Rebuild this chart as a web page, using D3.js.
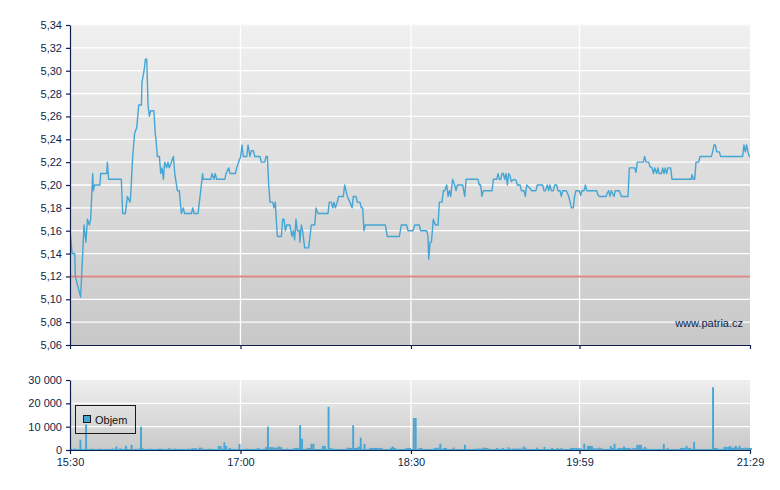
<!DOCTYPE html>
<html><head><meta charset="utf-8">
<script src="https://cdn.jsdelivr.net/npm/d3@7/dist/d3.min.js"></script>
<style>
html,body{margin:0;padding:0;background:#fff;}
svg{display:block;font-family:"Liberation Sans",Arial,sans-serif;}
</style></head>
<body><svg id="c" width="780" height="490"></svg>
<script>
// ---- data ----
const timeTicks = ["15:30","17:00","18:30","19:59","21:29"];
const priceTicks = [5.06,5.08,5.10,5.12,5.14,5.16,5.18,5.20,5.22,5.24,5.26,5.28,5.30,5.32,5.34];
const volumeTicks = [0,10000,20000,30000];
const refPrice = 5.12;
const watermark = "www.patria.cz";
const legendLabel = "Objem";

// minutes after 15:30
const priceMinutes = [
0,1.1,2.5,2.8,5.6,6.7,7.4,8.4,9.2,10.2,10.9,12.0,12.3,13.0,15.8,16.2,19.4,19.7,20.4,27.1,
27.8,29.2,30.3,31.7,32.0,33.1,34.1,35.2,35.5,36.3,37.7,38.0,39.1,39.8,40.5,41.2,41.9,42.6,44.3,45.0,
45.4,46.1,47.2,47.9,48.6,49.3,50.0,51.0,51.7,52.4,53.5,54.6,55.3,56.7,57.7,58.8,59.8,60.5,64.1,64.8,
65.5,67.6,69.0,70.0,70.4,74.3,75.0,76.0,76.7,77.4,81.7,82.4,83.8,84.5,87.3,88.0,89.0,90.1,90.8,
91.5,93.3,94.0,95.0,95.7,96.8,97.5,100.3,101.0,102.8,103.5,104.2,104.9,105.6,107.0,107.7,108.4,108.8,109.5,111.6,
112.3,113.0,113.7,114.4,116.1,117.2,117.9,118.6,119.3,120.0,121.1,121.4,122.1,122.8,123.9,126.0,127.4,129.2,129.9,130.9,
136.2,136.9,138.0,138.7,139.4,140.1,141.1,141.8,144.3,145.0,145.7,146.4,147.8,148.9,149.6,151.0,151.7,153.1,153.8,154.5,
155.2,155.9,166.5,167.5,173.9,174.9,177.7,178.4,181.1,
182.0,184.4,185.1,188.3,189.0,189.4,190.1,190.8,191.8,192.9,194.3,195.0,196.4,197.1,197.8,198.9,199.6,200.3,201.0,202.0,
203.1,203.8,204.5,207.3,208.4,209.1,215.4,216.1,216.8,217.5,218.2,222.8,223.5,225.3,226.0,226.7,227.4,228.1,228.8,229.5,
230.2,230.9,231.6,232.3,233.0,234.4,235.5,236.2,237.6,238.3,239.7,240.4,241.1,242.2,242.9,243.6,246.0,246.7,249.5,250.2,
250.9,252.0,252.7,253.4,254.1,255.2,255.9,256.9,257.6,258.7,259.4,260.1,261.9,262.6,263.3,264.0,264.7,265.7,266.4,267.1,
268.9,
269.6,270.3,271.4,272.1,272.8,278.0,278.8,279.5,283.0,283.7,284.4,285.1,285.8,287.2,287.9,290.0,291.1,294.6,295.3,298.1,
298.8,299.5,302.7,303.4,304.1,305.5,306.2,307.3,308.0,308.7,309.7,310.4,311.1,312.2,312.9,313.6,314.3,315.0,315.7,317.1,
317.8,328.0,328.4,329.1,329.8,330.5,331.9,332.6,338.6,339.3,340.0,340.7,341.4,342.8,343.5,355.1,355.8,356.5,357.2,357.9,
358.6,359
];
const priceValues = [
5.16,5.14,5.14,5.12,5.102,5.14,5.165,5.15,5.17,5.165,5.17,5.21,5.195,5.20,5.20,5.21,5.21,5.22,5.205,5.205,
5.175,5.175,5.19,5.185,5.19,5.225,5.245,5.25,5.255,5.27,5.27,5.29,5.30,5.31,5.31,5.27,5.26,5.265,5.265,5.245,
5.24,5.225,5.225,5.21,5.215,5.205,5.22,5.215,5.22,5.215,5.22,5.225,5.21,5.195,5.195,5.175,5.18,5.175,5.175,5.18,
5.175,5.175,5.195,5.21,5.205,5.205,5.21,5.205,5.21,5.205,5.205,5.21,5.215,5.21,5.21,5.215,5.22,5.225,5.235,
5.225,5.225,5.235,5.225,5.23,5.23,5.225,5.225,5.22,5.22,5.225,5.225,5.20,5.185,5.185,5.18,5.185,5.172,5.155,5.155,
5.17,5.17,5.16,5.165,5.165,5.155,5.16,5.152,5.17,5.16,5.16,5.15,5.165,5.16,5.145,5.145,5.165,5.165,5.18,5.175,
5.175,5.185,5.185,5.18,5.185,5.18,5.185,5.19,5.19,5.20,5.195,5.19,5.185,5.18,5.19,5.19,5.185,5.185,5.18,5.18,
5.16,5.165,5.165,5.155,5.155,5.165,5.165,5.16,5.16,
5.165,5.165,5.16,5.16,5.155,5.135,5.15,5.15,5.17,5.165,5.165,5.185,5.185,5.195,5.195,5.20,5.19,5.195,5.19,5.205,
5.20,5.195,5.20,5.20,5.19,5.205,5.205,5.20,5.20,5.19,5.195,5.195,5.205,5.205,5.21,5.205,5.205,5.21,5.21,5.205,
5.21,5.20,5.21,5.208,5.203,5.205,5.204,5.20,5.20,5.195,5.195,5.19,5.20,5.198,5.197,5.195,5.195,5.20,5.20,5.195,
5.195,5.20,5.195,5.20,5.195,5.195,5.20,5.20,5.195,5.195,5.19,5.195,5.195,5.193,5.19,5.185,5.18,5.18,5.19,5.195,
5.195,
5.191,5.195,5.195,5.20,5.195,5.195,5.191,5.19,5.19,5.193,5.195,5.19,5.195,5.19,5.195,5.195,5.19,5.19,5.215,5.215,
5.211,5.22,5.22,5.225,5.22,5.22,5.216,5.215,5.21,5.215,5.21,5.215,5.21,5.21,5.215,5.21,5.215,5.21,5.215,5.215,
5.205,5.205,5.209,5.205,5.205,5.22,5.22,5.225,5.225,5.229,5.235,5.235,5.229,5.229,5.225,5.225,5.235,5.229,5.235,5.229,
5.225,5.225
];

// volume per minute, index 0 = 15:30
const volumes = [
450,450,600,450,450,4400,450,450,11000,450,450,600,450,450,450,600,450,450,450,450,
450,450,600,450,1500,450,735,450,450,1800,450,450,2200,450,450,450,600,10000,700,450,
450,450,600,450,450,450,450,600,450,450,450,450,880,450,450,600,450,450,450,450,
450,450,600,450,735,735,735,450,1000,1000,450,450,450,600,450,450,450,450,1700,1700,
600,3200,1700,450,880,450,450,450,450,2600,450,450,450,600,450,450,450,450,600,880,
450,450,450,1200,10000,1200,1200,1200,880,1200,1500,1200,450,450,600,450,450,450,880,900,
900,10600,4850,450,450,880,880,2650,2650,440,440,440,440,1750,1750,440,18500,735,735,440,
440,440,440,440,440,440,1030,880,880,10600,880,880,1470,5300,440,2650,440,440,880,880,
880,880,880,880,880,440,440,440,440,1030,1470,880,440,440,440,440,440,735,880,880,
440,13700,13700,440,880,880,440,440,440,440,440,440,880,880,1030,2650,440,880,880,440,
440,440,1030,440,440,440,440,440,2200,440,440,440,440,440,590,590,590,590,1030,880,
880,440,440,440,440,880,440,440,880,440,440,1170,590,590,590,590,590,590,590,1470,
1030,440,440,440,440,440,1030,440,440,440,1300,440,440,440,880,440,440,880,440,880,
440,440,440,440,880,880,880,880,880,735,440,2650,440,1750,1750,1750,735,735,735,1030,
880,440,440,440,440,1760,880,2650,440,880,880,880,1470,880,880,880,440,880,880,2200,
2200,2200,590,1300,590,440,440,440,440,440,440,440,440,2650,440,880,440,440,440,440,
440,440,880,880,880,1750,880,880,440,3500,440,440,440,440,440,440,440,440,440,26900,
880,880,440,440,440,1300,1300,1300,1760,1030,1030,1760,1030,1760,880,880,1030,880,880,880
];

// ---- drawing ----
const svg = d3.select("#c");
const navy = "#0d1f4c";
const blue = "#45a5d3";
const L = 70, R = 750;
const P = {top:25, bottom:345};
const V = {top:380, bottom:450};

const base = new Date(2020,0,1,15,30).getTime();
const tm = m => new Date(base + m*60000);
const parseT = s => { const [h,mm] = s.split(":").map(Number); return new Date(2020,0,1,h,mm); };

const x = d3.scaleTime().domain([parseT(timeTicks[0]), parseT(timeTicks[timeTicks.length-1])]).range([L,R]);
const y = d3.scaleLinear().domain([priceTicks[0], priceTicks[priceTicks.length-1]]).range([P.bottom,P.top]);
const yv = d3.scaleLinear().domain([0, volumeTicks[volumeTicks.length-1]]).range([V.bottom,V.top]);

const loc = d3.formatLocale({decimal:",", thousands:" ", grouping:[3], currency:["",""]});
const fPrice = loc.format(".2f");
const fVol = loc.format(",");
const xTickDates = timeTicks.map(parseT);

const defs = svg.append("defs");
function grad(id, c1, c2){
  const g = defs.append("linearGradient").attr("id",id).attr("x1",0).attr("y1",0).attr("x2",0).attr("y2",1);
  g.append("stop").attr("offset","0%").attr("stop-color",c1);
  g.append("stop").attr("offset","100%").attr("stop-color",c2);
}
grad("gp","#f0f0f0","#c8c8c8");
grad("gv","#efefef","#c9c9c9");
defs.append("clipPath").attr("id","clipP").append("rect").attr("x",L).attr("y",P.top).attr("width",R-L).attr("height",P.bottom-P.top);

// backgrounds
svg.append("rect").attr("x",L).attr("y",P.top).attr("width",R-L).attr("height",P.bottom-P.top).attr("fill","url(#gp)");
svg.append("rect").attr("x",L).attr("y",V.top).attr("width",R-L).attr("height",V.bottom-V.top).attr("fill","url(#gv)");

// gridlines
const grid = svg.append("g").attr("stroke","#fff").attr("stroke-width",1.3);
priceTicks.slice(1,-1).forEach(t => grid.append("line").attr("x1",L).attr("x2",R).attr("y1",y(t)).attr("y2",y(t)));
priceTicks.slice(-1).forEach(t => grid.append("line").attr("x1",L).attr("x2",R).attr("y1",y(t)+0.5).attr("y2",y(t)+0.5).attr("stroke","#f4f4f4"));
volumeTicks.slice(1,-1).forEach(t => grid.append("line").attr("x1",L).attr("x2",R).attr("y1",yv(t)).attr("y2",yv(t)));
xTickDates.slice(1,-1).forEach(d => {
  grid.append("line").attr("x1",x(d)).attr("x2",x(d)).attr("y1",P.top).attr("y2",P.bottom);
  grid.append("line").attr("x1",x(d)).attr("x2",x(d)).attr("y1",V.top).attr("y2",V.bottom);
});

// reference line
svg.append("line").attr("x1",L).attr("x2",R).attr("y1",y(refPrice)).attr("y2",y(refPrice))
  .attr("stroke","#e08686").attr("stroke-width",2);

// price line
const pts = priceMinutes.map((m,i)=>[tm(m), priceValues[i]]);
svg.append("path").datum(pts).attr("clip-path","url(#clipP)")
  .attr("fill","none").attr("stroke",blue).attr("stroke-width",1.4).attr("stroke-linejoin","round")
  .attr("d", d3.line().x(d=>x(d[0])).y(d=>y(d[1])));

// volume bars
svg.append("g").selectAll("rect").data(volumes).join("rect")
  .attr("x",(v,i)=>x(tm(i)))
  .attr("width",(v,i)=>Math.max(0.5, x(tm(i+1))-x(tm(i))))
  .attr("y",v=>yv(v))
  .attr("height",v=>V.bottom-yv(v))
  .attr("fill",blue);

// watermark
svg.append("text").attr("x",743).attr("y",327).attr("text-anchor","end")
  .attr("font-size",11).attr("fill",navy).text(watermark);

// axes
function styleAxis(g){
  g.selectAll("path,line").attr("stroke",navy).attr("stroke-width",1.2);
  g.selectAll("text").attr("fill",navy).attr("font-size",11).attr("font-family","Liberation Sans, Arial, sans-serif");
}
svg.append("g").attr("transform",`translate(${L},0)`)
  .call(d3.axisLeft(y).tickValues(priceTicks).tickFormat(fPrice).tickSize(4).tickSizeOuter(0).tickPadding(4))
  .call(styleAxis);
svg.append("g").attr("transform",`translate(0,${P.bottom})`)
  .call(d3.axisBottom(x).tickValues(xTickDates).tickFormat("").tickSize(4).tickSizeOuter(0))
  .call(styleAxis);
svg.append("g").attr("transform",`translate(${L},0)`)
  .call(d3.axisLeft(yv).tickValues(volumeTicks).tickFormat(fVol).tickSize(4).tickSizeOuter(0).tickPadding(4))
  .call(styleAxis);
svg.append("g").attr("transform",`translate(0,${V.bottom})`)
  .call(d3.axisBottom(x).tickValues(xTickDates).tickFormat(d3.timeFormat("%H:%M")).tickSize(4).tickSizeOuter(0).tickPadding(4))
  .call(styleAxis);

// legend
const lg = svg.append("g");
lg.append("rect").attr("x",75.5).attr("y",405.5).attr("width",60).attr("height",28)
  .attr("fill","none").attr("stroke","#1a1a1a").attr("stroke-width",1);
lg.append("rect").attr("x",83.5).attr("y",415.5).attr("width",7).attr("height",7)
  .attr("fill",blue).attr("stroke","#1a1a1a").attr("stroke-width",1);
lg.append("text").attr("x",95).attr("y",423.5).attr("font-size",11).attr("fill","#111").text(legendLabel);
</script>
</body></html>
